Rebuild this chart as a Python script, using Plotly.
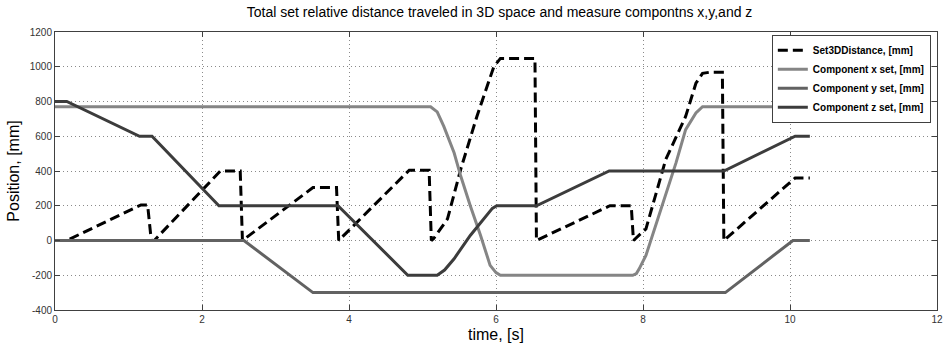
import plotly.graph_objects as go

# Set3DDistance
dist_t = [0, 0.16, 1.17, 1.26, 1.31, 1.35, 2.25, 2.52, 2.55, 3.51, 3.83, 3.86, 4.82, 5.09, 5.12,
          5.15, 5.34, 5.52, 5.74, 5.97, 6.06, 6.53, 6.55, 7.55, 7.84, 7.87, 8.04, 8.31, 8.58,
          8.72, 8.81, 8.9, 9.08, 9.10, 10.07, 10.27]
dist_v = [0, 0, 205, 205, 0, 0, 400, 400, 0, 305, 305, 0, 405, 405, 0,
          10, 124, 410, 714, 1000, 1048, 1048, 0, 200, 200, 0, 67, 467, 714,
          905, 962, 968, 968, 0, 360, 360]

# Component x
x_t = [0, 5.11, 5.20, 5.29, 5.43, 5.52, 5.65, 5.79, 5.92, 6.0, 6.06, 7.86, 7.91, 7.95, 8.04,
       8.27, 8.45, 8.58, 8.72, 8.81, 10.27]
x_v = [770, 770, 740, 657, 505, 371, 200, 29, -143, -185, -200, -200, -190, -162, -86,
       219, 448, 638, 734, 770, 770]

# Component y
y_t = [0, 2.57, 3.51, 9.12, 10.04, 10.27]
y_v = [0, 0, -300, -300, 0, 0]

# Component z
z_t = [0, 0.16, 1.15, 1.32, 2.23, 3.85, 4.80, 5.20, 5.30, 5.43, 5.65, 5.83, 5.95, 6.01, 6.55,
       7.54, 9.10, 10.07, 10.27]
z_v = [800, 800, 600, 600, 200, 200, -200, -200, -170, -105, 29, 124, 185, 200, 200,
       400, 400, 600, 600]

names = ["<b>Set3DDistance, [mm]</b>", "<b>Component x set, [mm]</b>",
         "<b>Component y set, [mm]</b>", "<b>Component z set, [mm]</b>"]

x_ticks = [0, 2, 4, 6, 8, 10, 12]
y_ticks = [-400, -200, 0, 200, 400, 600, 800, 1000, 1200]

fig = go.Figure()
fig.add_trace(go.Scatter(x=dist_t, y=dist_v, mode="lines", name=names[0],
                         line=dict(color="#000000", width=3, dash="10px,5px")))
fig.add_trace(go.Scatter(x=x_t, y=x_v, mode="lines", name=names[1],
                         line=dict(color="#858585", width=3)))
fig.add_trace(go.Scatter(x=y_t, y=y_v, mode="lines", name=names[2],
                         line=dict(color="#626262", width=3)))
fig.add_trace(go.Scatter(x=z_t, y=z_v, mode="lines", name=names[3],
                         line=dict(color="#3c3c3c", width=3)))

axis_common = dict(
    showline=True, linecolor="#404040", linewidth=1, mirror="allticks",
    ticks="inside", ticklen=5, tickcolor="#404040",
    showgrid=True, gridcolor="#8a8a8a", griddash="1px,3px", gridwidth=1,
    zeroline=False, tickfont=dict(family="Liberation Sans, Arial", size=10, color="#333333"),
)

fig.update_layout(
    width=948, height=345,
    margin=dict(l=55, r=5, t=32, b=33),
    paper_bgcolor="white", plot_bgcolor="white",
    title=dict(text="Total set relative distance traveled in 3D space and measure compontns x,y,and z",
               x=0.527, xanchor="center", y=0.965, yanchor="middle",
               font=dict(family="Liberation Sans, Arial", size=14, color="#000000")),
    xaxis=dict(range=[0, 12], tickvals=x_ticks, ticktext=[str(v) for v in x_ticks],
               title=dict(text="time, [s]", standoff=4,
                          font=dict(family="Liberation Sans, Arial", size=16, color="#000000")),
               **axis_common),
    yaxis=dict(range=[-400, 1200], tickvals=y_ticks, ticktext=[str(v) for v in y_ticks],
               title=dict(text="Position, [mm]", standoff=6,
                          font=dict(family="Liberation Sans, Arial", size=16, color="#000000")),
               **axis_common),
    showlegend=True,
    legend=dict(x=0.993, y=0.99, xanchor="right", yanchor="top",
                bgcolor="white", bordercolor="#404040", borderwidth=1,
                font=dict(family="Liberation Sans, Arial", size=10, color="#000000"),
                tracegroupgap=0, itemwidth=30),
)

fig.write_html("out.html")
